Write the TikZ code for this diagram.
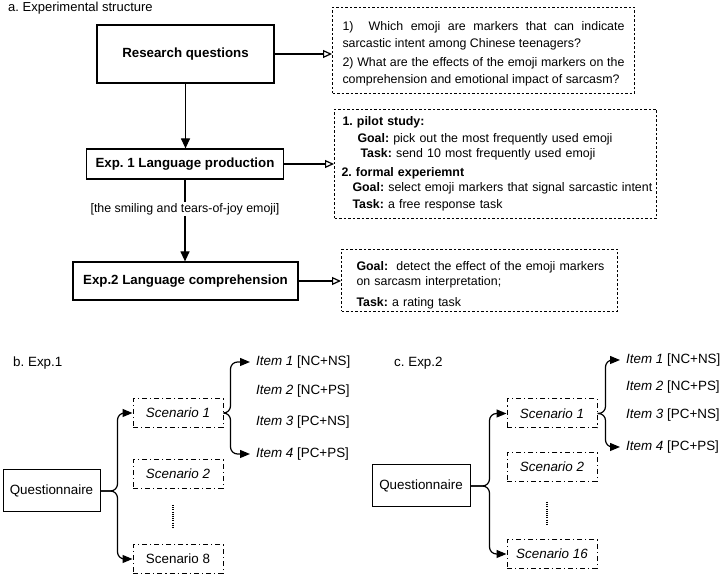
\documentclass[tikz,border=0pt]{standalone}
\usepackage{fontspec}
\setmainfont{Liberation Sans}
\usetikzlibrary{arrows.meta,calc}
\frenchspacing
\hyphenpenalty=10000
\exhyphenpenalty=10000
\begin{document}
\begin{tikzpicture}[x=1pt,y=-1pt,
  solidbox/.style={draw, line width=1.2pt, font=\fontsize{13.3}{16}\selectfont\bfseries, inner sep=0pt},
  dbox/.style={draw, line width=1pt, dash pattern=on 2.5pt off 2pt, anchor=north west, inner ysep=0pt, align=left, font=\fontsize{12.4}{16.5}\selectfont},
  ddbox/.style={draw, line width=1pt, dash pattern=on 5pt off 3pt on 1.2pt off 3pt, minimum width=90pt, minimum height=29pt, inner sep=0pt, font=\fontsize{13.4}{16}\selectfont},
  qbox/.style={draw, line width=1pt, minimum width=97pt, minimum height=42pt, font=\fontsize{13.4}{16}\selectfont, inner sep=0pt},
  openarr/.style={line width=1.2pt, -{Triangle[open, length=9pt, width=8pt]}},
  fillarr/.style={line width=1.2pt, -{Triangle[length=10pt, width=9pt]}},
  branch/.style={line width=1.2pt, rounded corners=7pt, -{Triangle[length=10pt, width=8pt]}},
  itemnode/.style={anchor=west, inner xsep=6pt, inner ysep=0pt, font=\fontsize{13.4}{16}\selectfont},
  lab/.style={inner sep=0pt, font=\fontsize{13.4}{16}\selectfont},
]
\useasboundingbox (0,0) rectangle (724,577);

% ---------- a ----------
\node[lab, anchor=base west, font=\fontsize{13}{16}\selectfont] (ta) at (8,12) {a. Experimental structure};

\node[solidbox, minimum width=177pt, minimum height=58pt] (rq) at (185.5,54) {Research questions};
\node[solidbox, minimum width=197pt, minimum height=30pt] (e1) at (185,164) {Exp. 1 Language production};
\node[solidbox, minimum width=225pt, minimum height=38pt] (e2) at (185.5,281) {Exp.2 Language comprehension};
\node[lab, fill=white, inner xsep=2pt, inner ysep=1pt, font=\fontsize{12.4}{15}\selectfont] (lbl) at (185,209) {[the smiling and tears-of-joy emoji]};

\node[dbox, text width=282pt, inner xsep=10pt, minimum height=86pt, align=justify, font=\fontsize{12.4}{17}\selectfont] (b1) at (332,7)
 {\rule{0pt}{16pt}1)\ \ Which emoji are markers that can indicate\linebreak sarcastic intent among Chinese teenagers?\par\vspace{2.5pt}2) What are the effects of the emoji markers on the\linebreak comprehension and emotional impact of sarcasm?};

\node[dbox, text width=318pt, inner xsep=2pt, minimum height=109pt] (b2) at (334,109)
 {\hspace*{6pt}\textbf{1. pilot study:}\\
  \hspace*{21pt}\textbf{Goal:} pick out the most frequently used emoji\\[-1pt]
  \hspace*{24pt}\textbf{Task:} send 10 most frequently used emoji\\[2pt]
  \hspace*{5pt}\textbf{2. formal experiemnt}\\[-1pt]
  \hspace*{16pt}\textbf{Goal:} select emoji markers that signal sarcastic intent\\
  \hspace*{16pt}\textbf{Task:} a free response task};

\node[dbox, text width=252pt, inner xsep=12pt, minimum height=62pt, font=\fontsize{12.4}{15}\selectfont] (b3) at (341,249)
 {\rule{0pt}{19pt}\hspace*{3pt}\textbf{Goal:}\ \ detect the effect of the emoji markers\\
  \hspace*{3pt}on sarcasm interpretation;\\[6pt]
  \hspace*{3pt}\textbf{Task:} a rating task};

\draw[openarr] (rq.east) -- (rq.east -| b1.west);
\draw[openarr] (e1.east) -- (e1.east -| b2.west);
\draw[openarr] (e2.east) -- (e2.east -| b3.west);
\draw[fillarr] (rq.south) -- (rq.south |- e1.north);
\draw[line width=1.2pt] (e1.south) -- (e1.south |- lbl.north);
\draw[fillarr] (lbl.south) -- (lbl.south |- e2.north);

% ---------- b ----------
\node[lab, anchor=west] (tb) at (13,363) {b. Exp.1};
\node[qbox] (qb) at (51.5,491) {Questionnaire};
\node[ddbox, font=\fontsize{13.4}{16}\selectfont\itshape] (sb1) at (178,413) {Scenario 1};
\node[ddbox, font=\fontsize{13.4}{16}\selectfont\itshape] (sb2) at (178,474) {Scenario 2};
\node[ddbox] (sb8) at (178,559) {Scenario 8};
\draw[line width=1.3pt, dash pattern=on 1pt off 1.2pt] (173,505) -- (173,528);

\node[itemnode] (ib1) at (250,362) {\textit{Item 1} [NC+NS]};
\node[itemnode] (ib2) at (250,391) {\textit{Item 2} [NC+PS]};
\node[itemnode] (ib3) at (250,422) {\textit{Item 3} [PC+NS]};
\node[itemnode] (ib4) at (250,454) {\textit{Item 4} [PC+PS]};

\draw[branch] (qb.east) -- ++(17,0) |- (sb1.west);
\draw[branch] (qb.east) -- ++(17,0) |- (sb8.west);
\draw[branch] (sb1.east) -- ++(7,0) |- (ib1.west);
\draw[branch] (sb1.east) -- ++(7,0) |- (ib4.west);

% ---------- c ----------
\node[lab, anchor=west] (tc) at (394,363) {c. Exp.2};
\node[qbox, minimum width=98pt] (qc) at (421,486) {Questionnaire};
\node[ddbox, font=\fontsize{13.4}{16}\selectfont\itshape] (sc1) at (552,413.5) {Scenario 1};
\node[ddbox, font=\fontsize{13.4}{16}\selectfont\itshape] (sc2) at (552,467) {Scenario 2};
\node[ddbox, font=\fontsize{13.4}{16}\selectfont\itshape] (sc16) at (552,554) {Scenario 16};
\draw[line width=1.3pt, dash pattern=on 1pt off 1.2pt] (547,502) -- (547,525);

\node[itemnode] (ic1) at (620,360) {\textit{Item 1} [NC+NS]};
\node[itemnode] (ic2) at (620,387) {\textit{Item 2} [NC+PS]};
\node[itemnode] (ic3) at (620,415) {\textit{Item 3} [PC+NS]};
\node[itemnode] (ic4) at (620,447) {\textit{Item 4} [PC+PS]};

\draw[branch] (qc.east) -- ++(19,0) |- (sc1.west);
\draw[branch] (qc.east) -- ++(19,0) |- (sc16.west);
\draw[branch] (sc1.east) -- ++(8,0) |- (ic1.west);
\draw[branch] (sc1.east) -- ++(8,0) |- (ic4.west);
\end{tikzpicture}
\end{document}
